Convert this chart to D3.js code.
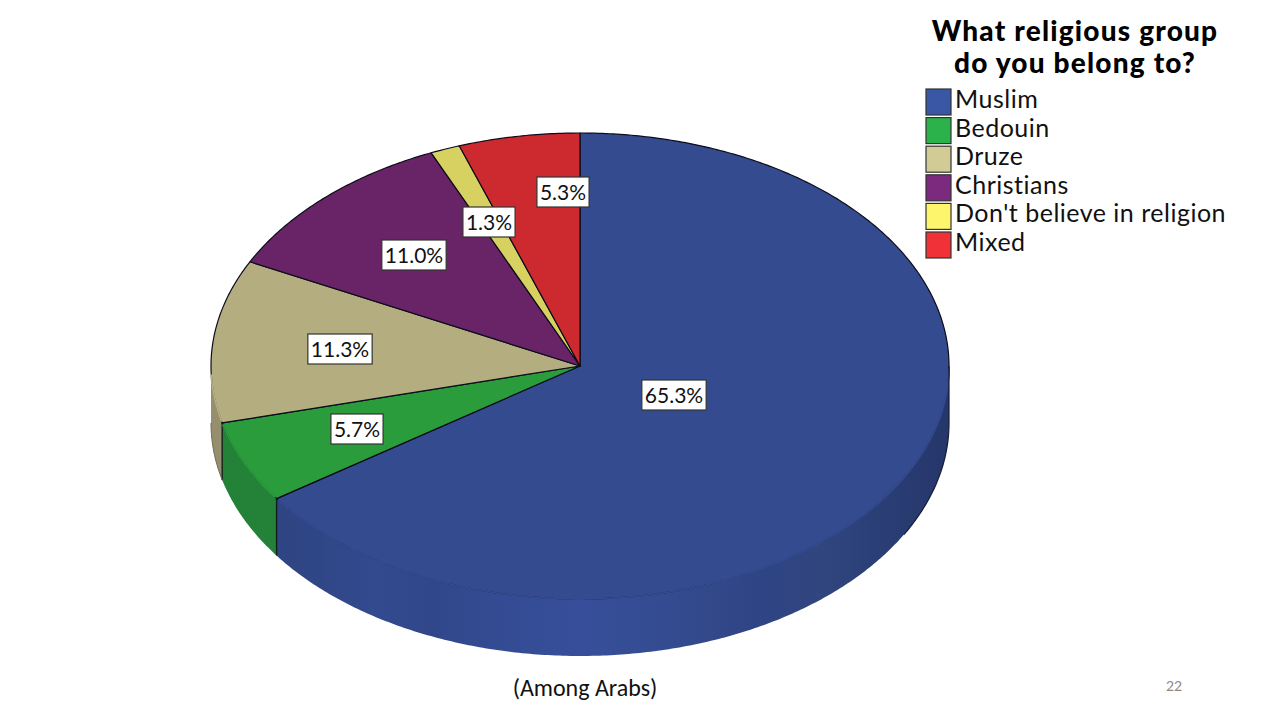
<!DOCTYPE html>
<html><head><meta charset="utf-8">
<script src="https://cdn.jsdelivr.net/npm/d3@7"></script>
<style>html,body{margin:0;background:#fff}svg{display:block}</style></head>
<body><script>
const categories=["Muslim","Bedouin","Druze","Christians","Don't believe in religion","Mixed"];
const values=[65.3,5.7,11.3,11.0,1.3,5.3];
const labels=["65.3%","5.7%","11.3%","11.0%","1.3%","5.3%"];
const topColors=["#344b8f","#2a9c3c","#b3ad80","#692367","#d6d160","#cd2a2f"];
const sideColors=["#2f4585","#238138","#958f6e","#571e55","#b0ac50","#a92327"];
const legendColors=["#3a57a6","#2bb24a","#d2cb96","#7b2a7d","#fdf56c","#f03238"];
const titleLines=["What religious group","do you belong to?"];

const W=1280,H=720,cx=580,cy=366,rx=369,ry=233,depth=57;
const svg=d3.select("body").append("svg").attr("width",W).attr("height",H).attr("viewBox",[0,0,W,H]);
const pie=d3.pie().sort(null).value(d=>d)(values);
const px=a=>cx+rx*Math.sin(a), py=a=>cy-ry*Math.cos(a);
const arcPts=(a0,a1)=>{const n=Math.max(2,Math.ceil((a1-a0)/0.01));return d3.range(n+1).map(i=>{const a=a0+(a1-a0)*i/n;return [px(a),py(a)];});};
const line=d3.line();

const defs=svg.append("defs");
const grad=defs.append("linearGradient").attr("id","blueSide").attr("gradientUnits","userSpaceOnUse")
  .attr("x1",cx-rx).attr("x2",cx+rx).attr("y1",0).attr("y2",0);
[[0,"#2f4482"],[0.12,"#2f4584"],[0.22,"#324a8e"],[0.3,"#31478a"],[0.4,"#344c94"],[0.5,"#374f9a"],[0.6,"#344c92"],[0.68,"#324889"],[0.75,"#2f4484"],[0.82,"#31467f"],[0.9,"#2b3f77"],[1,"#25366a"]]
  .forEach(([o,c])=>grad.append("stop").attr("offset",o).attr("stop-color",c));

// side wall: visible where the rim faces downward
const front0=Math.PI/2, front1=3*Math.PI/2;
const sides=svg.append("g");
pie.forEach((d,i)=>{
  const a0=Math.max(d.startAngle,front0),a1=Math.min(d.endAngle,front1);
  if(a1<=a0) return;
  const upper=arcPts(a0,a1), lower=upper.map(([x,y])=>[x,y+depth]).reverse();
  sides.append("path").attr("d",line(upper.concat(lower))+"Z")
    .attr("fill",i===0?"url(#blueSide)":sideColors[i]);
});
// dark vertical edges between slices on the wall
pie.slice(0,2).forEach(d=>{
  const a=d.endAngle;
  sides.append("line").attr("x1",px(a)).attr("x2",px(a)).attr("y1",py(a)).attr("y2",py(a)+depth)
    .attr("stroke","#10201a").attr("stroke-width",1.4);
});

// top face
const tops=svg.append("g");
pie.forEach((d,i)=>{
  tops.append("path").attr("d",line([[cx,cy]].concat(arcPts(d.startAngle,d.endAngle)))+"Z")
    .attr("fill",topColors[i]).attr("stroke","#0c0c1a").attr("stroke-width",1.2).attr("stroke-linejoin","round");
});
// lower rim stays unstroked: repaint it with the face colours
pie.forEach((d,i)=>{
  const a0=Math.max(d.startAngle,front0+0.015),a1=Math.min(d.endAngle,front1-0.03);
  if(a1<=a0) return;
  const inset=arcPts(a0+(i===0?0:0.006),a1-0.006).map(([x,y])=>[x,y]);
  tops.append("path").attr("d",line(inset)).attr("fill","none").attr("stroke",topColors[i]).attr("stroke-width",1.8);
});
// outer silhouette of the wall: dark at the right end, faint at the left
const silhouette=svg.append("g").attr("fill","none");
const rightLower=arcPts(front0,front0+0.5).map(([x,y])=>[x,y+depth]);
silhouette.append("path").attr("d",line([[px(front0),py(front0)]].concat(rightLower))).attr("stroke","#141c38").attr("stroke-width",1.2);
const leftLower=arcPts(front1-0.25,front1).map(([x,y])=>[x,y+depth]);
silhouette.append("path").attr("d",line(leftLower)).attr("stroke","#6f6a50").attr("stroke-width",1);

// value labels
const labelPos=[[674,395],[357,429],[340,349],[414,255],[489,222],[563,192]];
const lg=svg.append("g").attr("font-family","Lato, 'Open Sans', sans-serif").attr("font-size",21).attr("fill","#111");
labels.forEach((t,i)=>{
  const g=lg.append("g").attr("transform",`translate(${labelPos[i][0]},${labelPos[i][1]})`);
  const txt=g.append("text").attr("text-anchor","middle").attr("y",7.5).text(t);
  const w=txt.node().getComputedTextLength()+6;
  g.insert("rect","text").attr("x",-w/2).attr("y",-15).attr("width",w).attr("height",30)
    .attr("fill","#fff").attr("stroke","#333").attr("stroke-width",1.2);
});

// legend
const tg=svg.append("g").attr("font-family","Lato, sans-serif").attr("font-weight",900).attr("font-size",28).attr("letter-spacing",1.2).attr("fill","#000").attr("text-anchor","middle");
titleLines.forEach((t,i)=>tg.append("text").attr("x",1075).attr("y",41+i*32).text(t));
const leg=svg.append("g").attr("font-family","Lato, sans-serif").attr("font-size",25).attr("letter-spacing",0.5).attr("fill","#111");
const y0=88,step=28.6;
categories.forEach((c,i)=>{
  leg.append("rect").attr("x",926).attr("y",y0+i*step+1).attr("width",25).attr("height",26)
    .attr("fill",legendColors[i]).attr("stroke","#333").attr("stroke-width",1.2);
  leg.append("text").attr("x",955).attr("y",y0+i*step+20).text(c);
});

svg.append("text").attr("x",585).attr("y",696).attr("text-anchor","middle").attr("font-family","Carlito, Lato, sans-serif").attr("font-size",24).attr("fill","#111").text("(Among Arabs)");
svg.append("text").attr("x",1174).attr("y",691).attr("text-anchor","middle").attr("font-family","Lato, sans-serif").attr("font-size",14).attr("fill","#8a8a8a").text("22");
</script></body></html>
